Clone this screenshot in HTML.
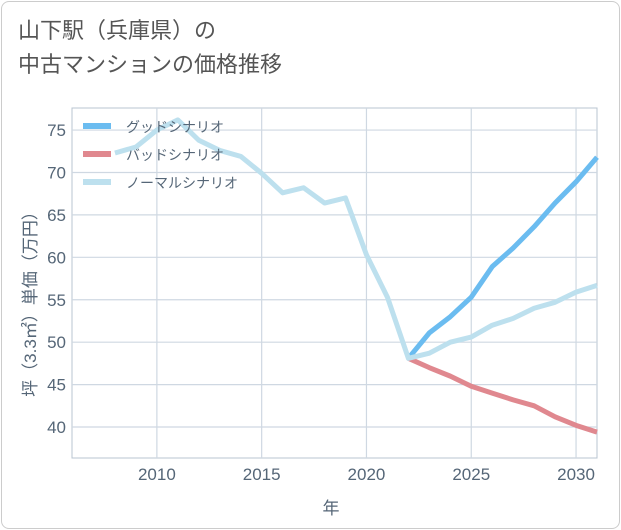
<!DOCTYPE html>
<html><head><meta charset="utf-8"><style>
body{margin:0;width:621px;height:530px;background:#fff;font-family:"Liberation Sans","Noto Sans CJK JP",sans-serif;}
#card{position:absolute;left:1px;top:1px;width:617px;height:526px;border:1px solid #ccc;border-radius:8px;background:#fff;}
#title{position:absolute;left:18px;top:14px;font-size:22px;line-height:34px;color:#555;}
svg{position:absolute;left:0;top:0;}
</style></head><body>
<div id="card"></div>
<div id="title">山下駅（兵庫県）の<br>中古マンションの価格推移</div>
<svg id="chart" width="621" height="530"></svg>
<script>
const years=[2008,2009,2010,2011,2012,2013,2014,2015,2016,2017,2018,2019,2020,2021,2022,2023,2024,2025,2026,2027,2028,2029,2030,2031];
const normalVals=[72.3,73.0,75.0,76.2,73.8,72.6,71.9,69.9,67.6,68.2,66.4,67.0,60.3,55.3,48.1,48.7,50.0,50.6,52.0,52.8,54.0,54.7,55.9,56.7];
const goodYears=[2022,2023,2024,2025,2026,2027,2028,2029,2030,2031];
const goodVals=[48.1,51.1,53.0,55.3,58.9,61.1,63.6,66.4,68.9,71.8];
const badVals=[48.1,47.0,46.0,44.8,44.0,43.2,42.5,41.2,40.2,39.4];
const xTicks=[2010,2015,2020,2025,2030];
const yTicks=[40,45,50,55,60,65,70,75];
const X0=72,X1=597,Y0=108,Y1=458,xmin=2005.95,xmax=2031,ymin=36.35,ymax=77.6;
const sx=v=>X0+(v-xmin)/(xmax-xmin)*(X1-X0);
const sy=v=>Y1-(v-ymin)/(ymax-ymin)*(Y1-Y0);
const svg=document.getElementById('chart');const NS='http://www.w3.org/2000/svg';
function mk(t,a){const e=document.createElementNS(NS,t);for(const k in a)e.setAttribute(k,a[k]);svg.appendChild(e);return e;}
let e=mk('rect',{x:X0,y:Y0,width:X1-X0,height:Y1-Y0,fill:'#fff',stroke:'#b8c4d0'});


for(const t of yTicks){
 e=mk('line',{x1:X0,x2:X1,y1:sy(t),y2:sy(t),stroke:'#cfd8e2','stroke-width':1.2});
 
 
 e=mk('text',{x:X0-6,y:sy(t)+6,'text-anchor':'end','font-size':17,fill:'#556677'});e.textContent=t;
 
 
}
for(const t of xTicks){
 e=mk('line',{x1:sx(t),x2:sx(t),y1:Y0,y2:Y1,stroke:'#cfd8e2','stroke-width':1.2});
 
 
 e=mk('text',{x:sx(t),y:Y1+22,'text-anchor':'middle','font-size':17,fill:'#556677'});e.textContent=t;
 
 
}
function line(xs,vs,c,name){
 const p=mk('polyline',{points:xs.map((x,i)=>sx(x)+','+sy(vs[i])).join(' '),fill:'none',stroke:c,'stroke-width':5,'stroke-linejoin':'round'});
 
 
}
line(goodYears,badVals,'#e0888f','bad-scenario-line');
line(goodYears,goodVals,'#6bbcf0','good-scenario-line');
line(years,normalVals,'#bde0ee','normal-scenario-line');
const leg=[['グッドシナリオ','#6bbcf0'],['バッドシナリオ','#e0888f'],['ノーマルシナリオ','#bde0ee']];
leg.forEach((l,i)=>{
 const y=126+i*28;
 e=mk('line',{x1:83,x2:111,y1:y,y2:y,stroke:l[1],'stroke-width':6});
 
 
 e=mk('text',{x:126,y:y+6,'font-size':14,fill:'#556677'});e.textContent=l[0];
 
 
});
e=mk('text',{x:331,y:514,'text-anchor':'middle','font-size':17,fill:'#556677'});e.textContent='年';


e=mk('text',{x:0,y:0,'text-anchor':'middle','font-size':17,fill:'#556677',transform:'translate(36,300) rotate(-90)'});e.textContent='坪（3.3㎡）単価（万円）';


</script>
</body></html>
